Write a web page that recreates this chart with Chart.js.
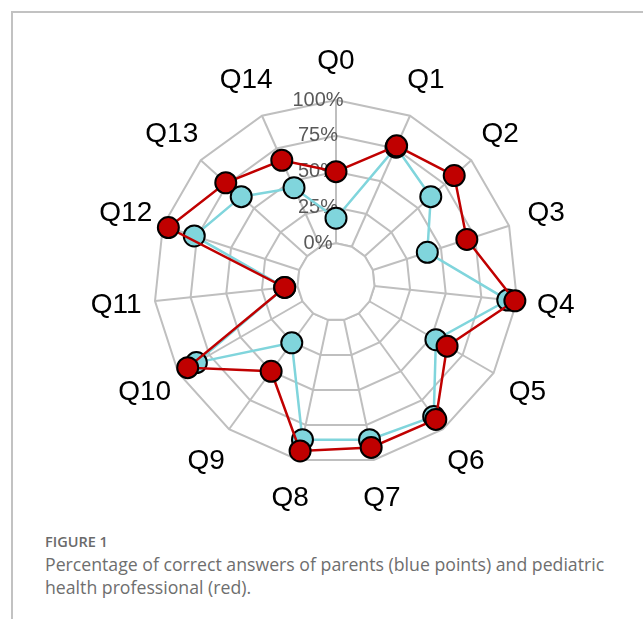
<!DOCTYPE html>
<html>
<head>
<meta charset="utf-8">
<script src="https://cdn.jsdelivr.net/npm/chart.js@4/dist/chart.umd.min.js"></script>
<style>
  html,body{margin:0;padding:0;background:#fff;}
  body{width:643px;height:619px;position:relative;overflow:hidden;}
  .frame{position:absolute;left:11px;top:11px;right:0;bottom:0;border-left:2px solid #c2c2c2;border-top:2px solid #c2c2c2;}
  .chart-box{position:absolute;left:0;top:0;width:643px;height:520px;}
  .fig-label{position:absolute;left:45px;top:532px;font:600 14.5px/20px "Open Sans",sans-serif;color:#6a6a6a;}
  .fig-caption{position:absolute;left:45px;top:553px;width:590px;font:400 17.7px/23px "Open Sans",sans-serif;color:#6e6e6e;}
</style>
</head>
<body>
<div class="frame"></div>
<div class="chart-box"><canvas id="radarChart"></canvas></div>
<div class="fig-label">FIGURE 1</div>
<div class="fig-caption">Percentage of correct answers of parents (blue points) and pediatric health professional (red).</div>

<script>
/* ── DATA ────────────────────────────────────────────────── */
const questions     = ['Q0','Q1','Q2','Q3','Q4','Q5','Q6','Q7','Q8','Q9','Q10','Q11','Q12','Q13','Q14'];
const professionals = [50, 77, 84, 69, 98.5, 62.5, 91.5, 91, 93.5, 50, 92.5, 9, 96, 76.5, 66];
const parents       = [17.5, 76, 62, 40, 93.5, 53.5, 89, 85.5, 85.5, 25.5, 85.5, 9, 77, 62, 45];
const tickValues    = [0, 25, 50, 75, 100];
const tickLabels    = ['0%','25%','50%','75%','100%'];

const RED  = '#c00000';
const CYAN = '#80d5dc';
const GRID = '#bfbfbf';

/* ── OVERLAY: centre hole, tick + axis labels ───────────── */
const radarDecor = {
  id:'radarDecor',
  beforeDatasetsDraw(chart){
    const s = chart.scales.r, ctx = chart.ctx;
    const n = questions.length;

    // blank out the centre so spokes start at the 0% ring
    ctx.save();
    ctx.beginPath();
    for(let i=0;i<n;i++){
      const p = s.getPointPositionForValue(i, 0);
      i ? ctx.lineTo(p.x,p.y) : ctx.moveTo(p.x,p.y);
    }
    ctx.closePath();
    ctx.fillStyle = '#fff';
    ctx.fill();
    ctx.strokeStyle = GRID;
    ctx.lineWidth = 2;
    ctx.stroke();

    // percent labels along the Q0 spoke
    ctx.font = '20px "Liberation Sans", Arial, sans-serif';
    ctx.fillStyle = '#595959';
    ctx.textAlign = 'center';
    ctx.textBaseline = 'middle';
    tickValues.forEach((v,i)=>{
      const d = s.getDistanceFromCenterForValue(v);
      ctx.fillText(tickLabels[i], s.xCenter - 18, s.yCenter - d);
    });

    // question labels, centred on a ring outside the grid
    ctx.font = '28px "Liberation Sans", Arial, sans-serif';
    ctx.fillStyle = '#000';
    questions.forEach((q,i)=>{
      const p = s.getPointPosition(i, s.drawingArea + 39);
      ctx.fillText(q, p.x, p.y);
    });
    ctx.restore();
  }
};

/* ── CHART ───────────────────────────────────────────────── */
new Chart(document.getElementById('radarChart'), {
  type:'radar',
  data:{
    labels:questions,
    datasets:[
      { label:'Pediatric health professionals', data:professionals, borderColor:RED, backgroundColor:RED,
        pointBackgroundColor:RED, pointBorderColor:'#000', pointBorderWidth:2, pointRadius:10.5,
        borderWidth:2.5, fill:false, clip:false },
      { label:'Parents', data:parents, borderColor:CYAN, backgroundColor:CYAN,
        pointBackgroundColor:CYAN, pointBorderColor:'#000', pointBorderWidth:2, pointRadius:10.5,
        borderWidth:2.5, fill:false, clip:false },
    ]
  },
  options:{
    responsive:true, maintainAspectRatio:false, animation:false, events:[],
    layout:{padding:{left:154,right:125,top:100,bottom:56}},
    plugins:{legend:{display:false},tooltip:{enabled:false}},
    elements:{line:{tension:0}},
    scales:{
      r:{
        min:-27, max:100,
        afterBuildTicks:sc=>{ sc.ticks = tickValues.map(v=>({value:v})); },
        ticks:{display:false},
        pointLabels:{display:false},
        grid:{color:GRID, lineWidth:2},
        angleLines:{color:GRID, lineWidth:2},
      }
    }
  },
  plugins:[radarDecor]
});
</script>
</body>
</html>
